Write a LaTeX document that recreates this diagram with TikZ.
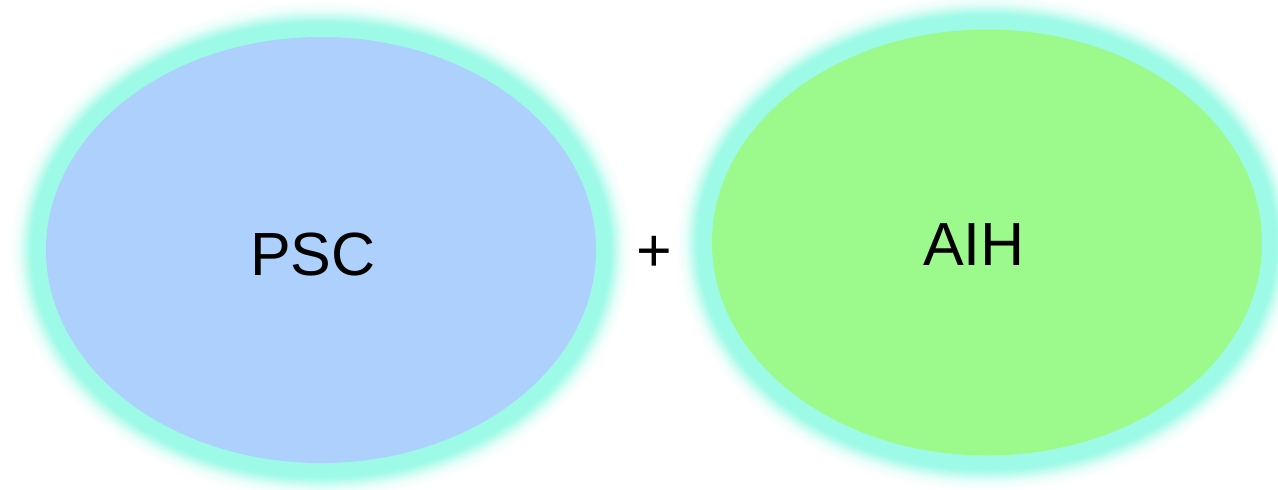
\documentclass[tikz,border=0pt]{standalone}
\usepackage{fontspec}
\setmainfont{Liberation Sans}
\usetikzlibrary{shapes.geometric}
\definecolor{glowc}{RGB}{156,250,230}
\definecolor{pscfill}{RGB}{174,208,253}
\definecolor{aihfill}{RGB}{156,250,140}
\tikzset{
  bubble/.style={ellipse, inner sep=0pt, minimum width=550pt, minimum height=426pt, draw=none},
  lbl/.style={font=\fontsize{61}{61}\selectfont, text=black, inner sep=0pt}
}
\begin{document}
\begin{tikzpicture}[x=1pt,y=-1pt]
\useasboundingbox (0,0) rectangle (1278,490);
% glows
\foreach \cx/\cy in {321/250, 987/242.5}{
  \foreach \d/\p in {36/2,34/5,32/9,30/14,28/21,26/30,24/41,22/54,20/68,18/82,16/94,14/100}{
    \fill[glowc!\p!white] (\cx,\cy) ellipse [x radius=275pt+\d pt, y radius=213pt+\d pt];
  }
}
\node[bubble, fill=pscfill] (psc) at (321,250) {};
\node[bubble, fill=aihfill] (aih) at (987,242.5) {};
\node[lbl] (psct) at (313,254) {PSC};
\node[lbl] (aiht) at (974,244.5) {AIH};
\node[lbl] (plus) at (654,254) {+};
\end{tikzpicture}
\end{document}
